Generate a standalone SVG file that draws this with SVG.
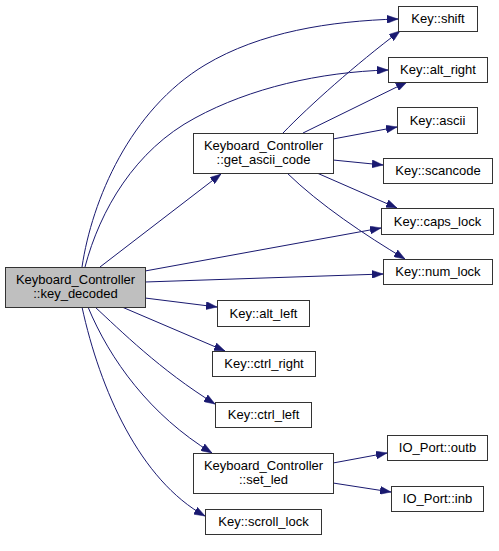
<svg xmlns="http://www.w3.org/2000/svg" width="499" height="551" viewBox="0 0 499 551">
<style>
.n rect{fill:#fff;stroke:#333;stroke-width:1}
.root rect{fill:#bfbfbf;stroke:#333;stroke-width:1}
text{font-family:"Liberation Sans",Arial,sans-serif;font-size:13px;fill:#000;text-anchor:middle}
.e path{fill:none;stroke:#191970;stroke-width:1;marker-end:url(#ah)}
</style>
<defs>
<marker id="ah" viewBox="0 0 11 8" refX="11" refY="4" markerWidth="11" markerHeight="8" markerUnits="userSpaceOnUse" orient="auto">
<path d="M0,0 L11,4 L0,8 z" fill="#191970" stroke="#191970" stroke-width="0.5"/>
</marker>
</defs>
<rect width="499" height="551" fill="#fff"/>
<g id="edges" class="e">
<path d="M82,267 C92,200 130,110 205,65 C260,32 330,21 398,19"/>
<path d="M85,267 C100,210 135,150 195,118 C250,88 320,72 388,70"/>
<path d="M100,267 L221,174"/>
<path d="M145,271 L381,228"/>
<path d="M145,282 L383,274"/>
<path d="M145,298 L217,307"/>
<path d="M122,307 L225,351"/>
<path d="M95,307 C120,330 160,370 215,404"/>
<path d="M88,307 C110,360 150,415 212,453"/>
<path d="M82,307 C100,390 140,480 205,516"/>
<path d="M283,133 C310,105 355,65 400,31"/>
<path d="M303,133 L407,82"/>
<path d="M333,139 L397,127"/>
<path d="M333,160 L383,165"/>
<path d="M317,173 L397,208"/>
<path d="M287,173 C320,205 365,235 405,259"/>
<path d="M333,463 L387,453"/>
<path d="M333,483 L391,492"/>
</g>
<g id="key_decoded" class="root"><rect x="5.5" y="267.5" width="140" height="40"/><text x="75.5" y="284">Keyboard_Controller</text><text x="75.5" y="298">::key_decoded</text></g>
<g id="get_ascii_code" class="n"><rect x="193.5" y="133.5" width="140" height="40"/><text x="263.5" y="150">Keyboard_Controller</text><text x="263.5" y="164">::get_ascii_code</text></g>
<g id="set_led" class="n"><rect x="193.5" y="453.5" width="140" height="40"/><text x="263.5" y="470">Keyboard_Controller</text><text x="263.5" y="484">::set_led</text></g>
<g id="shift" class="n"><rect x="398.5" y="6.5" width="79" height="25"/><text x="438" y="23">Key::shift</text></g>
<g id="alt_right" class="n"><rect x="388.5" y="57.5" width="99" height="25"/><text x="438" y="74">Key::alt_right</text></g>
<g id="ascii" class="n"><rect x="397.5" y="107.5" width="80" height="26"/><text x="437.5" y="125">Key::ascii</text></g>
<g id="scancode" class="n"><rect x="383.5" y="158.5" width="109" height="25"/><text x="438" y="175">Key::scancode</text></g>
<g id="caps_lock" class="n"><rect x="381.5" y="208.5" width="112" height="26"/><text x="437.5" y="226">Key::caps_lock</text></g>
<g id="num_lock" class="n"><rect x="383.5" y="259.5" width="109" height="25"/><text x="438" y="276">Key::num_lock</text></g>
<g id="alt_left" class="n"><rect x="217.5" y="300.5" width="92" height="26"/><text x="263.5" y="318">Key::alt_left</text></g>
<g id="ctrl_right" class="n"><rect x="212.5" y="351.5" width="103" height="25"/><text x="264" y="368">Key::ctrl_right</text></g>
<g id="ctrl_left" class="n"><rect x="215.5" y="402.5" width="96" height="25"/><text x="263.5" y="419">Key::ctrl_left</text></g>
<g id="scroll_lock" class="n"><rect x="205.5" y="509.5" width="116" height="25"/><text x="263.5" y="526">Key::scroll_lock</text></g>
<g id="outb" class="n"><rect x="387.5" y="435.5" width="100" height="25"/><text x="437.5" y="452">IO_Port::outb</text></g>
<g id="inb" class="n"><rect x="391.5" y="486.5" width="92" height="25"/><text x="437.5" y="503">IO_Port::inb</text></g>
</svg>
